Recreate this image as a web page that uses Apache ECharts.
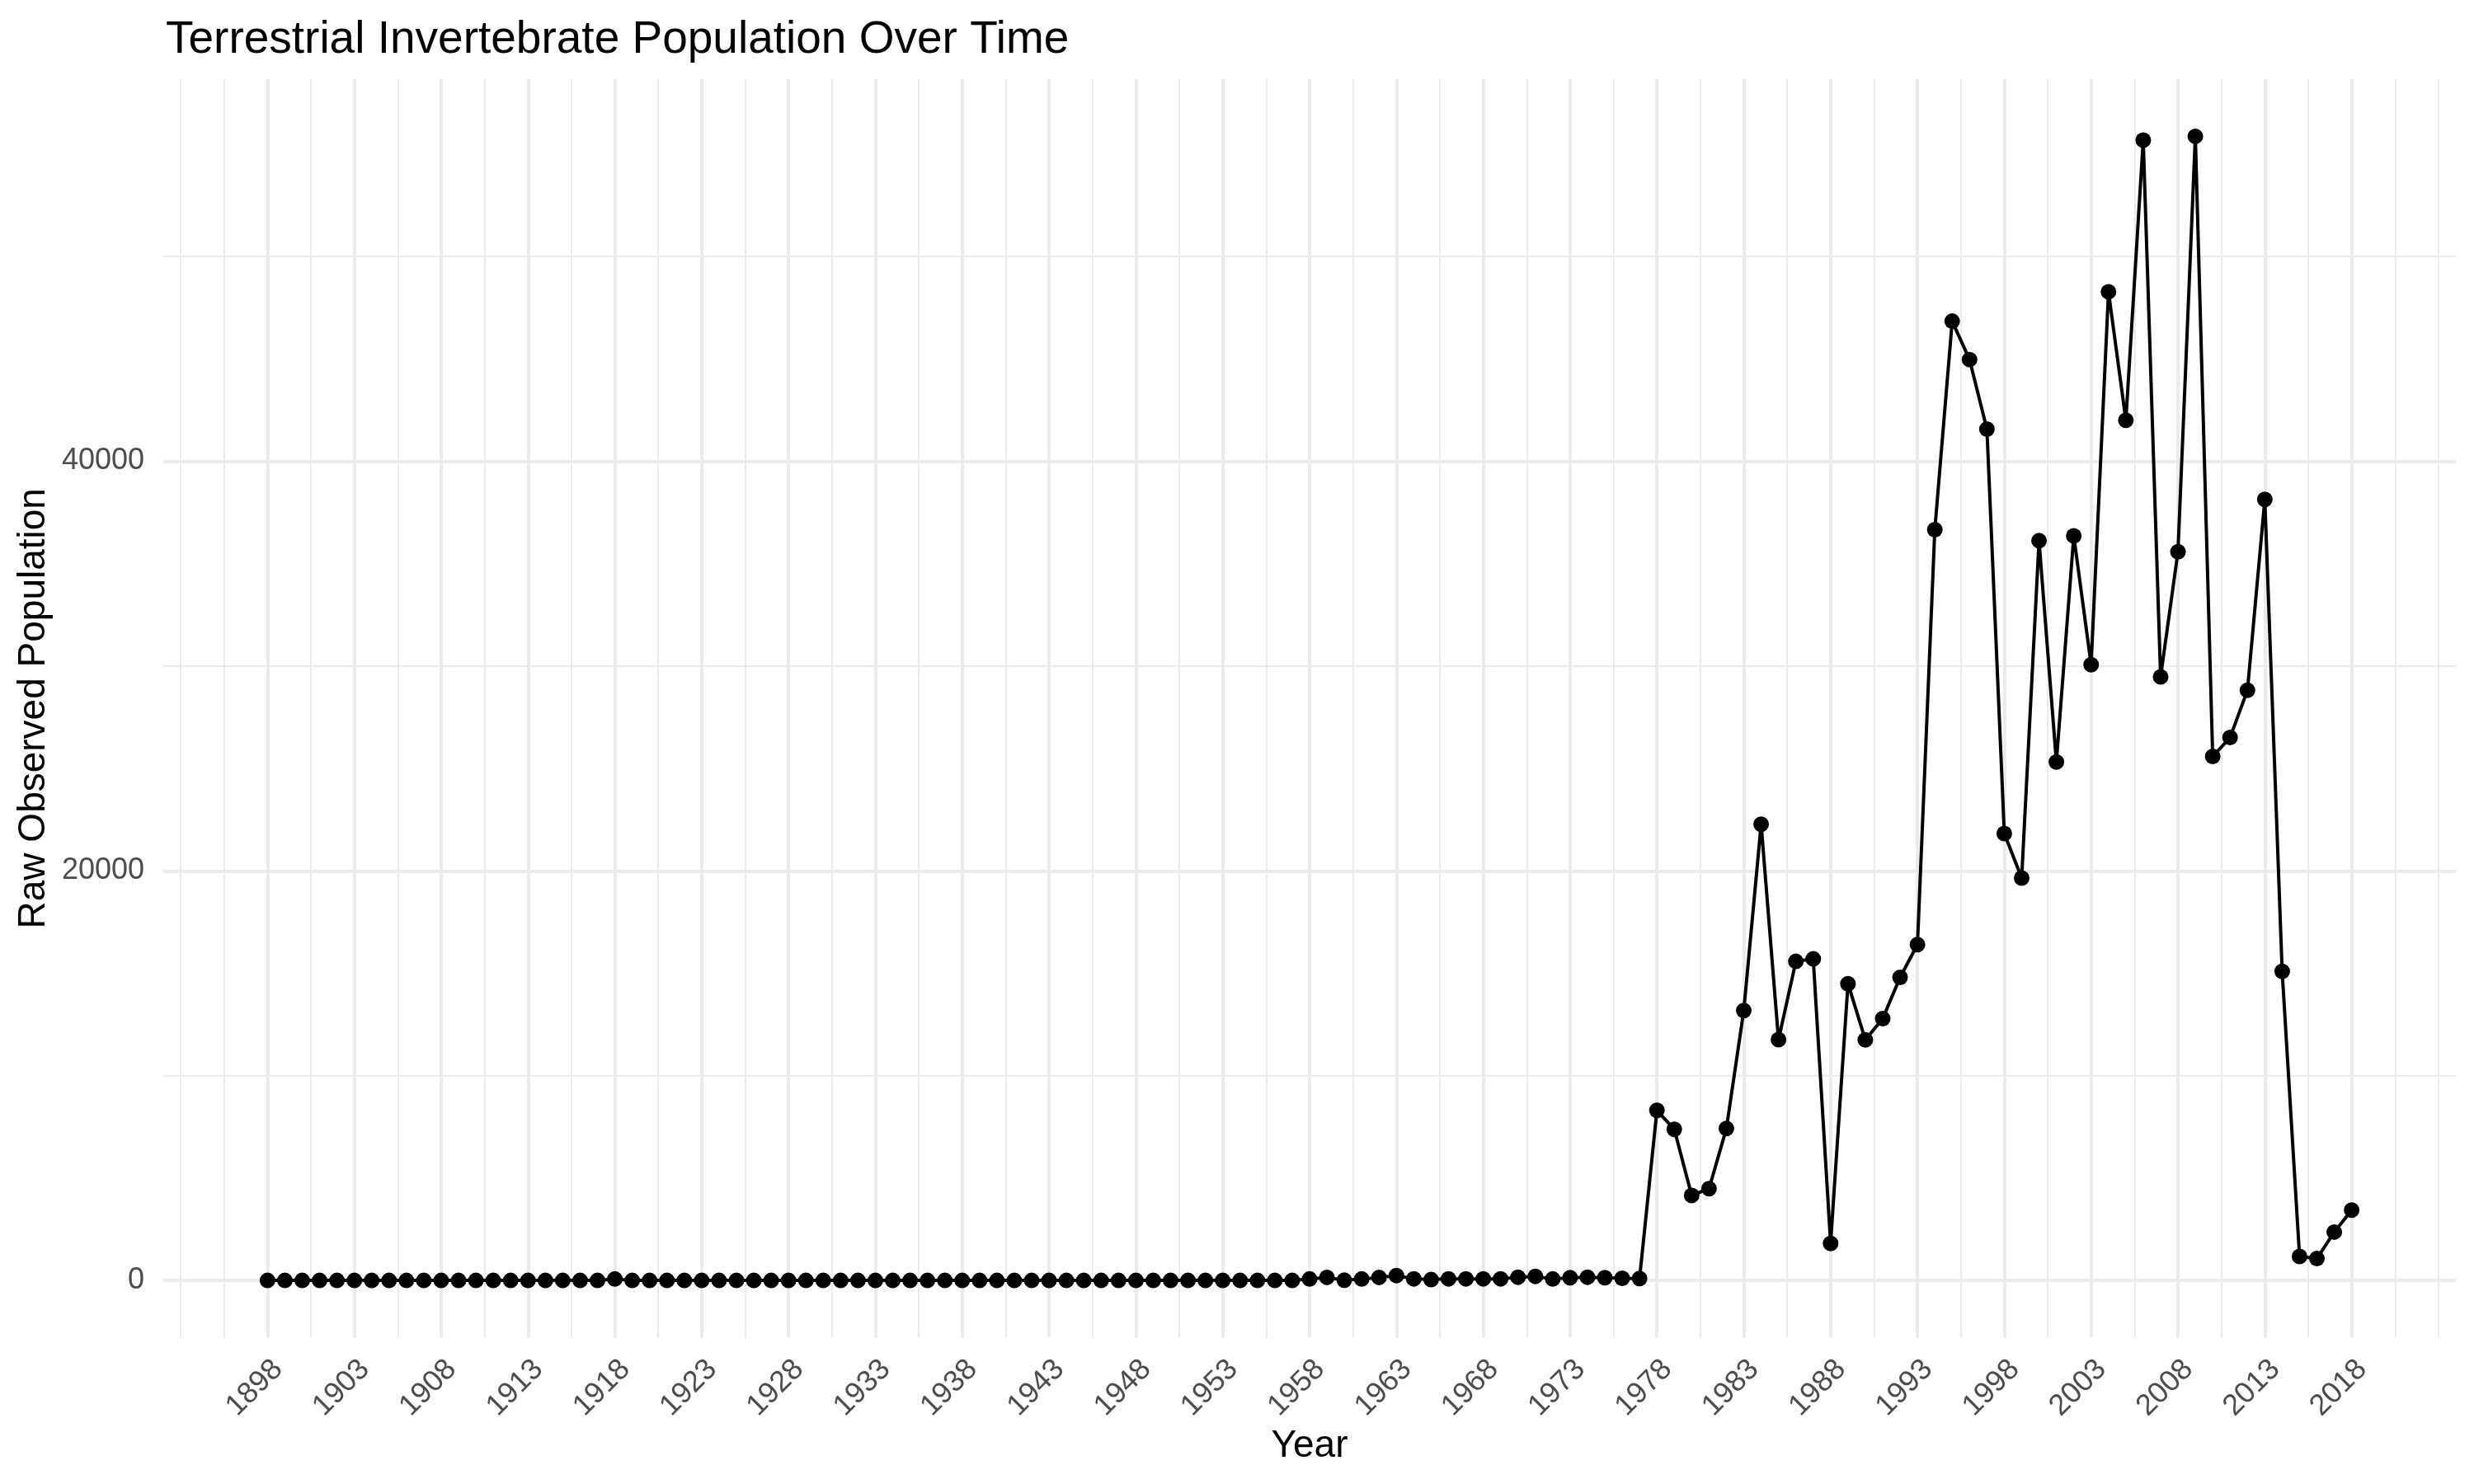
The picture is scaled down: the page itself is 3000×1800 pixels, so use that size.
<!DOCTYPE html>
<html>
<head>
<meta charset="utf-8">
<script src="https://cdn.jsdelivr.net/npm/echarts@6/dist/echarts.min.js"></script>
<style>
html,body{margin:0;padding:0;background:#fff;}
#chart{width:3000px;height:1800px;}
</style>
</head>
<body>
<div id="chart"></div>
<script>
// ---- data ----
const years = [
1898,1899,1900,1901,1902,1903,1904,1905,1906,1907,1908,1909,1910,1911,1912,1913,1914,1915,1916,1917,
1918,1919,1920,1921,1922,1923,1924,1925,1926,1927,1928,1929,1930,1931,1932,1933,1934,1935,1936,1937,
1938,1939,1940,1941,1942,1943,1944,1945,1946,1947,1948,1949,1950,1951,1952,1953,1954,1955,1956,1957,
1958,1959,1960,1961,1962,1963,1964,1965,1966,1967,1968,1969,1970,1971,1972,1973,1974,1975,1976,1977,
1978,1979,1980,1981,1982,1983,1984,1985,1986,1987,1988,1989,1990,1991,1992,1993,1994,1995,1996,1997,
1998,1999,2000,2001,2002,2003,2004,2005,2006,2007,2008,2009,2010,2011,2012,2013,2014,2015,2016,2017,
2018];
const population = [
0,0,0,0,0,0,0,0,0,0,0,0,0,0,0,0,0,0,0,0,
70,0,0,0,0,0,0,0,0,0,0,0,0,0,0,0,0,0,0,0,
0,0,0,0,0,0,0,0,0,0,0,0,0,0,0,0,0,0,0,0,
70,150,10,70,150,240,80,40,80,80,80,80,160,200,70,135,160,135,107,95,
8305,7378,4152,4482,7418,13174,22275,11756,15578,15699,1808,14487,11750,12783,14797,16399,36657,46834,44961,41566,
21824,19645,36117,25316,36351,30064,48272,41997,55678,29468,35578,55860,25586,26508,28812,38131,15087,1172,1071,2364,
3435];
const xTickYears = [1898,1903,1908,1913,1918,1923,1928,1933,1938,1943,1948,1953,1958,1963,1968,1973,1978,1983,1988,1993,1998,2003,2008,2013,2018];
const xMinorYears = [1893,1895.5,1900.5,1905.5,1910.5,1915.5,1920.5,1925.5,1930.5,1935.5,1940.5,1945.5,1950.5,1955.5,1960.5,1965.5,1970.5,1975.5,1980.5,1985.5,1990.5,1995.5,2000.5,2005.5,2010.5,2015.5,2020.5,2023];
const yTicks = [0,20000,40000];
const yMinor = [10000,30000,50000];

const FONT = '"Liberation Sans", Arial, Helvetica, sans-serif';
const GRID = '#EBEBEB';
const MAJOR_W = 4, MINOR_W = 2;

const gridLines = [];
xTickYears.forEach(v => gridLines.push({xAxis: v, lineStyle: {color: GRID, width: MAJOR_W, type: 'solid'}}));
xMinorYears.forEach(v => gridLines.push({xAxis: v, lineStyle: {color: GRID, width: MINOR_W, type: 'solid'}}));
yTicks.forEach(v => gridLines.push({yAxis: v, lineStyle: {color: GRID, width: MAJOR_W, type: 'solid'}}));
yMinor.forEach(v => gridLines.push({yAxis: v, lineStyle: {color: GRID, width: MINOR_W, type: 'solid'}}));

const chart = echarts.init(document.getElementById('chart'), null, {renderer: 'canvas'});
chart.setOption({
  animation: false,
  backgroundColor: '#ffffff',
  title: {
    text: 'Terrestrial Invertebrate Population Over Time',
    left: 196, top: 16,
    textStyle: {fontFamily: FONT, fontSize: 55, fontWeight: 'normal', color: '#000000'}
  },
  grid: {left: 198, right: 22, top: 96, bottom: 177.5, containLabel: false},
  xAxis: {
    type: 'value', min: 1892, max: 2024,
    name: 'Year', nameLocation: 'middle', nameGap: 130,
    nameTextStyle: {fontFamily: FONT, fontSize: 46, color: '#000000', verticalAlign: 'middle'},
    axisLine: {show: false}, axisTick: {show: false}, splitLine: {show: false},
    axisLabel: {
      customValues: xTickYears,
      rotate: 45, align: 'right', verticalAlign: 'top', margin: 20,
      fontFamily: FONT, fontSize: 36, color: '#4D4D4D',
      formatter: v => String(v)
    }
  },
  yAxis: {
    type: 'value', min: -2793, max: 58653,
    name: 'Raw Observed Population', nameLocation: 'middle', nameGap: 155,
    nameTextStyle: {fontFamily: FONT, fontSize: 46, color: '#000000', verticalAlign: 'middle'},
    axisLine: {show: false}, axisTick: {show: false}, splitLine: {show: false},
    axisLabel: {
      customValues: yTicks, margin: 23,
      fontFamily: FONT, fontSize: 36, color: '#4D4D4D',
      formatter: v => String(v)
    }
  },
  series: [
    {
      type: 'line', z: 1, data: [], silent: true,
      markLine: {silent: true, symbol: ['none','none'], label: {show: false}, animation: false, data: gridLines}
    },
    {
      type: 'line', z: 10,
      data: years.map((y, i) => [y, population[i]]),
      showSymbol: true, showAllSymbol: true,
      symbol: 'circle', symbolSize: 19,
      itemStyle: {color: '#000000'},
      lineStyle: {color: '#000000', width: 4}
    }
  ]
});
</script>
</body>
</html>
